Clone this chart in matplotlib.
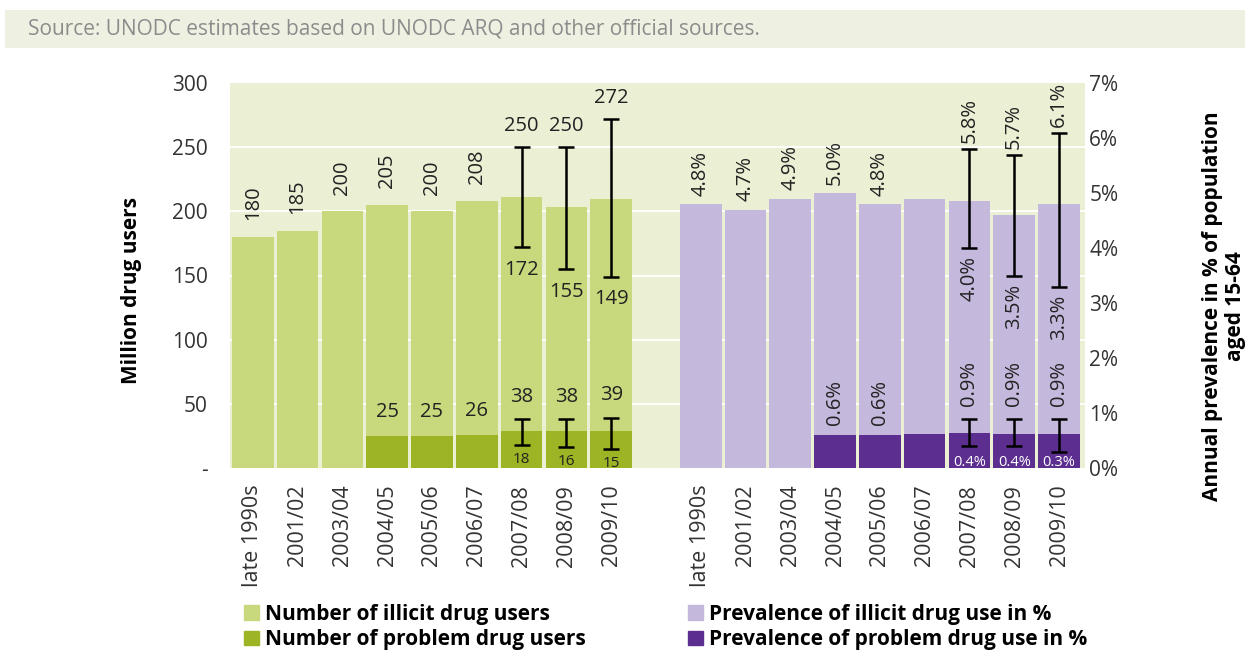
import matplotlib
matplotlib.use("Agg")
import matplotlib.pyplot as plt
from matplotlib import font_manager
from matplotlib.patches import Rectangle, Patch

# ---- data -------------------------------------------------------------
periods = ["late 1990s", "2001/02", "2003/04", "2004/05", "2005/06",
           "2006/07", "2007/08", "2008/09", "2009/10"]

# Millions of people
illicit_users = [180, 185, 200, 205, 200, 208, 211, 203, 210]
illicit_users_labels = ["180", "185", "200", "205", "200", "208", None, None, None]
illicit_users_low = [None, None, None, None, None, None, 172, 155, 149]
illicit_users_high = [None, None, None, None, None, None, 250, 250, 272]

problem_users = [None, None, None, 25, 25, 26, 29, 28.5, 28.5]
problem_users_labels = [None, None, None, "25", "25", "26", None, None, None]
problem_users_low = [None, None, None, None, None, None, 18, 16, 15]
problem_users_high = [None, None, None, None, None, None, 38, 38, 39]

# Annual prevalence, % of population aged 15-64
illicit_prev = [4.8, 4.7, 4.9, 5.0, 4.8, 4.9, 4.85, 4.6, 4.8]
illicit_prev_labels = ["4.8%", "4.7%", "4.9%", "5.0%", "4.8%", None, None, None, None]
illicit_prev_low = [None, None, None, None, None, None, 4.0, 3.5, 3.3]
illicit_prev_high = [None, None, None, None, None, None, 5.8, 5.7, 6.1]

problem_prev = [None, None, None, 0.6, 0.6, 0.61, 0.64, 0.62, 0.62]
problem_prev_labels = [None, None, None, "0.6%", "0.6%", None, None, None, None]
problem_prev_low = [None, None, None, None, None, None, 0.4, 0.4, 0.3]
problem_prev_high = [None, None, None, None, None, None, 0.9, 0.9, 0.9]

left_ticks = [0, 50, 100, 150, 200, 250, 300]
left_tick_labels = ["-", "50", "100", "150", "200", "250", "300"]
right_ticks = [0, 1, 2, 3, 4, 5, 6, 7]

# ---- styling -------------------------------------------------------------
available = {f.name for f in font_manager.fontManager.ttflist}
BASE = "Open Sans" if "Open Sans" in available else "DejaVu Sans"
NARROW = "Liberation Sans Narrow" if "Liberation Sans Narrow" in available else BASE
plt.rcParams["font.family"] = [BASE, "DejaVu Sans"]

LIGHT_GREEN = "#c8d87c"
DARK_GREEN = "#9db425"
LIGHT_PURPLE = "#c4b8dc"
DARK_PURPLE = "#5c2e8f"
PLOT_BG = "#ebefd4"
SOURCE_BG = "#eef1e2"
TEXT = "#222222"
TICK_TEXT = "#333333"

fig = plt.figure(figsize=(12.45, 6.57), dpi=100)
fig.patch.set_facecolor("white")

# Source banner
fig.patches.append(Rectangle((5 / 1245, 1 - 48 / 657), 1240 / 1245, 38 / 657,
                             transform=fig.transFigure, facecolor=SOURCE_BG,
                             edgecolor="none", zorder=0))
fig.text(28 / 1245, 1 - 29 / 657,
         "Source: UNODC estimates based on UNODC ARQ and other official sources.",
         family=[NARROW, "DejaVu Sans"], fontsize=15, color="#8c8c8c",
         va="center", ha="left")

ax = fig.add_axes([230 / 1245, 1 - 468 / 657, 855 / 1245, 385 / 657])
ax.set_facecolor(PLOT_BG)
for s in ax.spines.values():
    s.set_visible(False)

ymax = 300.0
scale = ymax / 7.0  # left-axis units per 1 % of prevalence

x_green = list(range(len(periods)))
x_purple = [i + len(periods) + 1 for i in range(len(periods))]
width = 0.93

ax.set_xlim(-0.51, x_purple[-1] + 0.58)
ax.set_ylim(0, ymax)

# white horizontal grid
for t in left_ticks[1:-1]:
    ax.axhline(t, color="white", lw=1.3, zorder=1)

ax.bar(x_green, illicit_users, width=width, color=LIGHT_GREEN, zorder=2)
ax.bar(x_purple, [v * scale for v in illicit_prev], width=width,
       color=LIGHT_PURPLE, zorder=2)

pg = [(x, v) for x, v in zip(x_green, problem_users) if v is not None]
ax.bar([p[0] for p in pg], [p[1] for p in pg], width=width, color=DARK_GREEN, zorder=3)
pp = [(x, v) for x, v in zip(x_purple, problem_prev) if v is not None]
ax.bar([p[0] for p in pp], [p[1] * scale for p in pp], width=width,
       color=DARK_PURPLE, zorder=3)

FS = 14.5


def errbars(xs, vals, lows, highs, k=1.0):
    for x, v, lo, hi in zip(xs, vals, lows, highs):
        if lo is None:
            continue
        ax.errorbar(x, v * k, yerr=[[v * k - lo * k], [hi * k - v * k]],
                    fmt="none", ecolor="black", elinewidth=1.8, capsize=6,
                    capthick=1.8, zorder=5)


errbars(x_green, illicit_users, illicit_users_low, illicit_users_high)
errbars(x_green, problem_users, problem_users_low, problem_users_high)
errbars(x_purple, illicit_prev, illicit_prev_low, illicit_prev_high, scale)
errbars(x_purple, problem_prev, problem_prev_low, problem_prev_high, scale)


def label(x, y, s, dy, rot=0, va="bottom", size=FS, color=TEXT):
    ax.annotate(s, (x, y), xytext=(0, dy), textcoords="offset points",
                ha="center", va=va, rotation=rot, fontsize=size, color=color,
                zorder=6, annotation_clip=False)


# green: bar value labels and interval labels
for x, v, s in zip(x_green, illicit_users, illicit_users_labels):
    if s:
        label(x, v, s, 12, rot=90)
for x, lo, hi in zip(x_green, illicit_users_low, illicit_users_high):
    if lo is not None:
        label(x, hi, f"{hi}", 8)
        label(x, lo, f"{lo}", -9, va="top")
for x, v, s in zip(x_green, problem_users, problem_users_labels):
    if s:
        label(x, v, s, 10)
for x, lo, hi in zip(x_green, problem_users_low, problem_users_high):
    if lo is not None:
        label(x, hi, f"{hi}", 9)
        label(x, lo, f"{lo}", -5, va="top", size=11)

# purple: bar value labels and interval labels
for x, v, s in zip(x_purple, illicit_prev, illicit_prev_labels):
    if s:
        label(x, v * scale, s, 6, rot=90)
for x, lo, hi in zip(x_purple, illicit_prev_low, illicit_prev_high):
    if lo is not None:
        label(x, hi * scale, f"{hi:.1f}%", 4, rot=90)
        label(x, lo * scale, f"{lo:.1f}%", -6, rot=90, va="top")
for x, v, s in zip(x_purple, problem_prev, problem_prev_labels):
    if s:
        label(x, v * scale, s, 7, rot=90)
for x, lo, hi in zip(x_purple, problem_prev_low, problem_prev_high):
    if lo is not None:
        label(x, hi * scale, f"{hi:.1f}%", 9, rot=90)
        ax.text(x, 4.5, f"{lo:.1f}%", ha="center", va="center", fontsize=10.5,
                color="white", zorder=6)

# axes ticks
ax.set_yticks(left_ticks)
ax.set_yticklabels(left_tick_labels)
ax.tick_params(axis="y", length=0, pad=16, labelsize=15, labelcolor=TICK_TEXT)
ax.set_xticks(x_green + x_purple)
ax.set_xticklabels(periods + periods, rotation=90, fontsize=15.5, color=TICK_TEXT)
ax.tick_params(axis="x", length=0, pad=12)

ax2 = ax.twinx()
ax2.set_ylim(0, 7)
ax2.set_yticks(right_ticks)
ax2.set_yticklabels([f"{t}%" for t in right_ticks])
ax2.tick_params(axis="y", length=0, pad=3, labelsize=15, labelcolor=TICK_TEXT)
for s in ax2.spines.values():
    s.set_visible(False)

fig.text(131 / 1245, 1 - 290 / 657, "Million drug users", rotation=90,
         ha="center", va="center", fontsize=15, fontweight="bold", color="black")
fig.text(1224 / 1245, 1 - 306 / 657,
         "Annual prevalence in % of population\naged 15-64", rotation=90,
         ha="center", va="center", fontsize=15, fontweight="bold",
         color="black", linespacing=1.1, multialignment="center")

# legends
leg_kw = dict(frameon=False, handlelength=0.7, handleheight=0.7,
              handletextpad=0.3, labelspacing=0.2, borderpad=0, borderaxespad=0,
              prop={"family": [NARROW, "DejaVu Sans"], "weight": "bold", "size": 15})
fig.legend(handles=[Patch(color=LIGHT_GREEN, label="Number of illicit drug users"),
                    Patch(color=DARK_GREEN, label="Number of problem drug users")],
           loc="upper left", bbox_to_anchor=(244 / 1245, 1 - 604 / 657), **leg_kw)
fig.legend(handles=[Patch(color=LIGHT_PURPLE, label="Prevalence of illicit drug use in %"),
                    Patch(color=DARK_PURPLE, label="Prevalence of problem drug use in %")],
           loc="upper left", bbox_to_anchor=(688 / 1245, 1 - 604 / 657), **leg_kw)

fig.savefig("out.png", dpi=100)
